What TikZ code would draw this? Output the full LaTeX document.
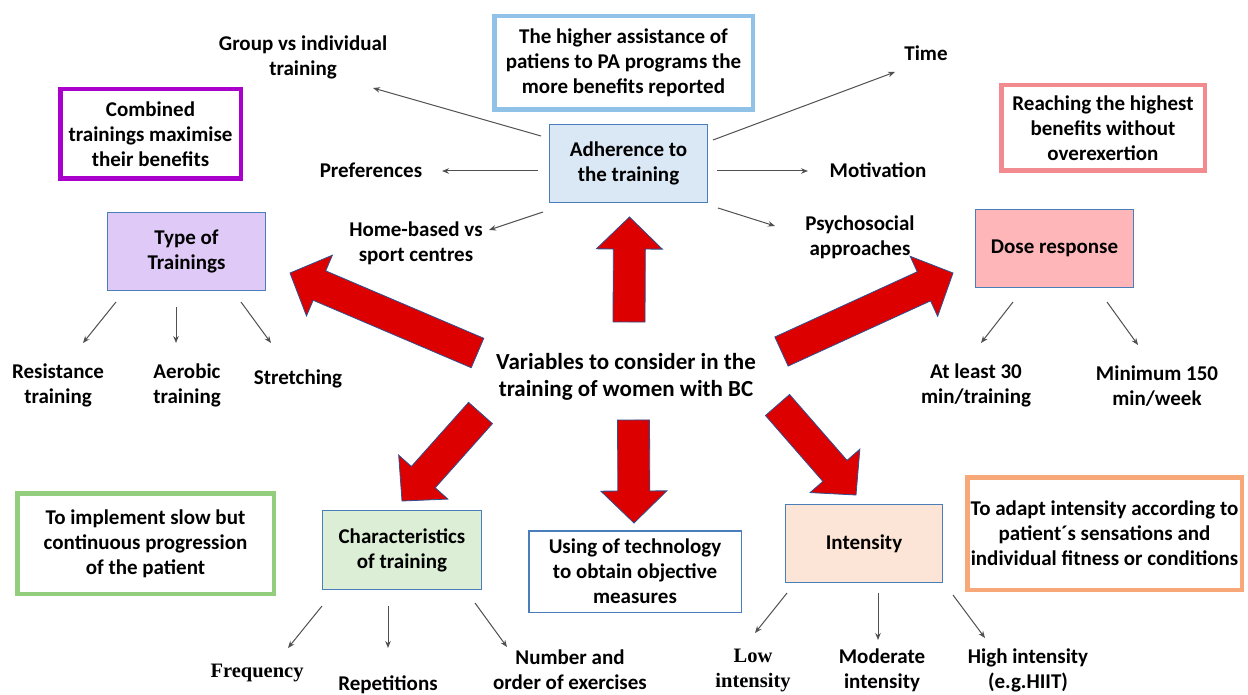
\documentclass[tikz,border=0pt]{standalone}
\usepackage{fontspec}
\setmainfont{Carlito}
\newfontfamily\tnr{Liberation Serif}
\usetikzlibrary{calc,arrows.meta}
\definecolor{topblue}{HTML}{90C2E7}
\definecolor{boxblue}{HTML}{4A7EBB}
\definecolor{adhfill}{HTML}{DAE8F5}
\definecolor{purp}{HTML}{AA00CC}
\definecolor{typefill}{HTML}{DFCAF7}
\definecolor{salmon}{HTML}{F28B8F}
\definecolor{dosefill}{HTML}{FFB6B8}
\definecolor{greenb}{HTML}{93CD7E}
\definecolor{charfill}{HTML}{DCEFD6}
\definecolor{intfill}{HTML}{FCE4D6}
\definecolor{orangeb}{HTML}{F8A878}
\definecolor{arrred}{HTML}{DD0000}
\definecolor{arrblue}{HTML}{2F4F8F}
\definecolor{arrgray}{HTML}{505050}
\newcommand\BlockArrow[3]{%
  \path ($(#3)!32pt!(#2)$) coordinate (#1h);
  \filldraw[redarr] ($(#2)!16pt!90:(#3)$) -- ($(#1h)!16pt!90:(#3)$) -- ($(#1h)!33pt!90:(#3)$) -- (#3)
    -- ($(#1h)!33pt!-90:(#3)$) -- ($(#1h)!16pt!-90:(#3)$) -- ($(#2)!16pt!-90:(#3)$) -- cycle;}
\begin{document}
\begin{tikzpicture}[x=1pt,y=-1pt,
  every node/.style={font=\bfseries\fontsize{21}{25}\selectfont, align=center, inner sep=0pt, text=black},
  note/.style={draw, line width=4.5pt, fill=white},
  varbox/.style={draw=boxblue, line width=1pt},
  thinarr/.style={draw=arrgray, line width=1pt, -{Stealth[length=7pt,width=5.5pt]}},
  redarr/.style={fill=arrred, draw=arrblue, line width=0.8pt, line join=miter},
  serif/.style={font=\tnr\bfseries\fontsize{20.5}{25}\selectfont}]
\useasboundingbox (0,0) rectangle (1248,695);
\fill[white] (0,0) rectangle (1248,695);

% note boxes
\node[note, draw=topblue, minimum width=258.5, minimum height=93.5] (top) at (623.5,63)
  {The higher assistance of\\patiens to PA programs the\\more benefits reported};
\node[note, draw=purp, minimum width=180.5, minimum height=89.5] (comb) at (150.5,134)
  {Combined\\trainings maximise\\their benefits};
\node[note, draw=salmon, minimum width=203.5, minimum height=85.5] (reach) at (1103,128)
  {Reaching the highest\\benefits without\\overexertion};
\node[note, draw=greenb, minimum width=256.5, minimum height=100.5] (impl) at (145.5,543.5)
  {To implement slow but\\continuous progression\\of the patient};
\node[note, draw=orangeb, minimum width=274.5, minimum height=112.5] (adapt) at (1104.5,533.5)
  {To adapt intensity according to\\patient´s sensations and\\individual fitness or conditions};

% variable boxes
\node[varbox, fill=adhfill, minimum width=158, minimum height=78] (adh) at (628.5,163.5) {Adherence to\\the training};
\node[varbox, fill=typefill, minimum width=158, minimum height=78] (type) at (186.5,251.5) {Type of\\Trainings};
\node[varbox, fill=dosefill, minimum width=158, minimum height=78] (dose) at (1054.5,248.5) {Dose response};
\node[varbox, fill=charfill, minimum width=159, minimum height=79] (char) at (402,550) {Characteristics\\of training};
\node[varbox, fill=white, line width=1.5pt, minimum width=212.5, minimum height=81.5] (tech) at (635,571.5)
  {Using of technology\\to obtain objective\\measures};
\node[varbox, fill=intfill, minimum width=157, minimum height=78] (int) at (864,543.5) {Intensity};

% centre
\node[font=\bfseries\fontsize{23}{27}\selectfont] (centre) at (626,376.5) {Variables to consider in the\\training of women with BC};

% labels
\node (group) at (303,57) {Group vs individual\\training};
\node (pref) at (371,170) {Preferences};
\node (home) at (416,243) {Home-based vs\\sport centres};
\node (time) at (926,53) {Time};
\node (motiv) at (878,170) {Motivation};
\node (psych) at (860,237) {Psychosocial\\approaches};
\node (resist) at (58,385) {Resistance\\training};
\node (aero) at (187,385) {Aerobic\\training};
\node (stretch) at (298,379) {Stretching};
\node (least) at (976,385) {At least 30\\min/training};
\node (minw) at (1157,386) {Minimum 150\\min/week};
\node[serif] (freq) at (257,673) {Frequency};
\node (rep) at (388,685) {Repetitions};
\node (numb) at (570,670) {Number and\\order of exercises};
\node[serif] (low) at (753,670) {Low\\intensity};
\node (mod) at (882,670) {Moderate\\intensity};
\node (high) at (1028,670) {High intensity\\(e.g.HIIT)};

% big red arrows
\coordinate (cU) at (629,322);   \coordinate (tU) at (629.5,217);
\coordinate (cD) at (633.5,420); \coordinate (tD) at (634,523);
\coordinate (cL) at (477.5,353); \coordinate (tL) at (290,273);
\coordinate (cR) at (781.5,351.5); \coordinate (tR) at (953,273);
\coordinate (cDL) at (480.5,413); \coordinate (tDL) at (402,501);
\coordinate (cDR) at (777.5,405); \coordinate (tDR) at (856,495);
\BlockArrow{aU}{cU}{tU}
\BlockArrow{aD}{cD}{tD}
\BlockArrow{aL}{cL}{tL}
\BlockArrow{aR}{cR}{tR}
\BlockArrow{aDL}{cDL}{tDL}
\BlockArrow{aDR}{cDR}{tDR}

% thin arrows
\coordinate (s1) at (541,136); \coordinate (e1) at (373,88);
\coordinate (s2) at (538,171); \coordinate (e2) at (442,171);
\coordinate (s3) at (543,212); \coordinate (e3) at (489,230);
\coordinate (s4) at (713,140); \coordinate (e4) at (895,72);
\coordinate (s5) at (717,171); \coordinate (e5) at (808,171);
\coordinate (s6) at (718,208); \coordinate (e6) at (775,226);
\draw[thinarr] (s1) -- (e1);
\draw[thinarr] (s2) -- (e2);
\draw[thinarr] (s3) -- (e3);
\draw[thinarr] (s4) -- (e4);
\draw[thinarr] (s5) -- (e5);
\draw[thinarr] (s6) -- (e6);

\coordinate (s7) at (116,302); \coordinate (e7) at (83,343);
\coordinate (s8) at (176,307); \coordinate (e8) at (176,343);
\coordinate (s9) at (241,302); \coordinate (e9) at (271,343);
\draw[thinarr] (s7) -- (e7);
\draw[thinarr] (s8) -- (e8);
\draw[thinarr] (s9) -- (e9);

\coordinate (s10) at (1013,302); \coordinate (e10) at (981,343);
\coordinate (s11) at (1107,302); \coordinate (e11) at (1138,345);
\draw[thinarr] (s10) -- (e10);
\draw[thinarr] (s11) -- (e11);

\coordinate (s12) at (322,606); \coordinate (e12) at (288,648);
\coordinate (s13) at (388,606); \coordinate (e13) at (388,648);
\coordinate (s14) at (475,603); \coordinate (e14) at (507,647);
\draw[thinarr] (s12) -- (e12);
\draw[thinarr] (s13) -- (e13);
\draw[thinarr] (s14) -- (e14);

\coordinate (s15) at (787,593); \coordinate (e15) at (755,633);
\coordinate (s16) at (878,593); \coordinate (e16) at (878,640);
\coordinate (s17) at (953,595); \coordinate (e17) at (985,638);
\draw[thinarr] (s15) -- (e15);
\draw[thinarr] (s16) -- (e16);
\draw[thinarr] (s17) -- (e17);
\end{tikzpicture}
\end{document}
